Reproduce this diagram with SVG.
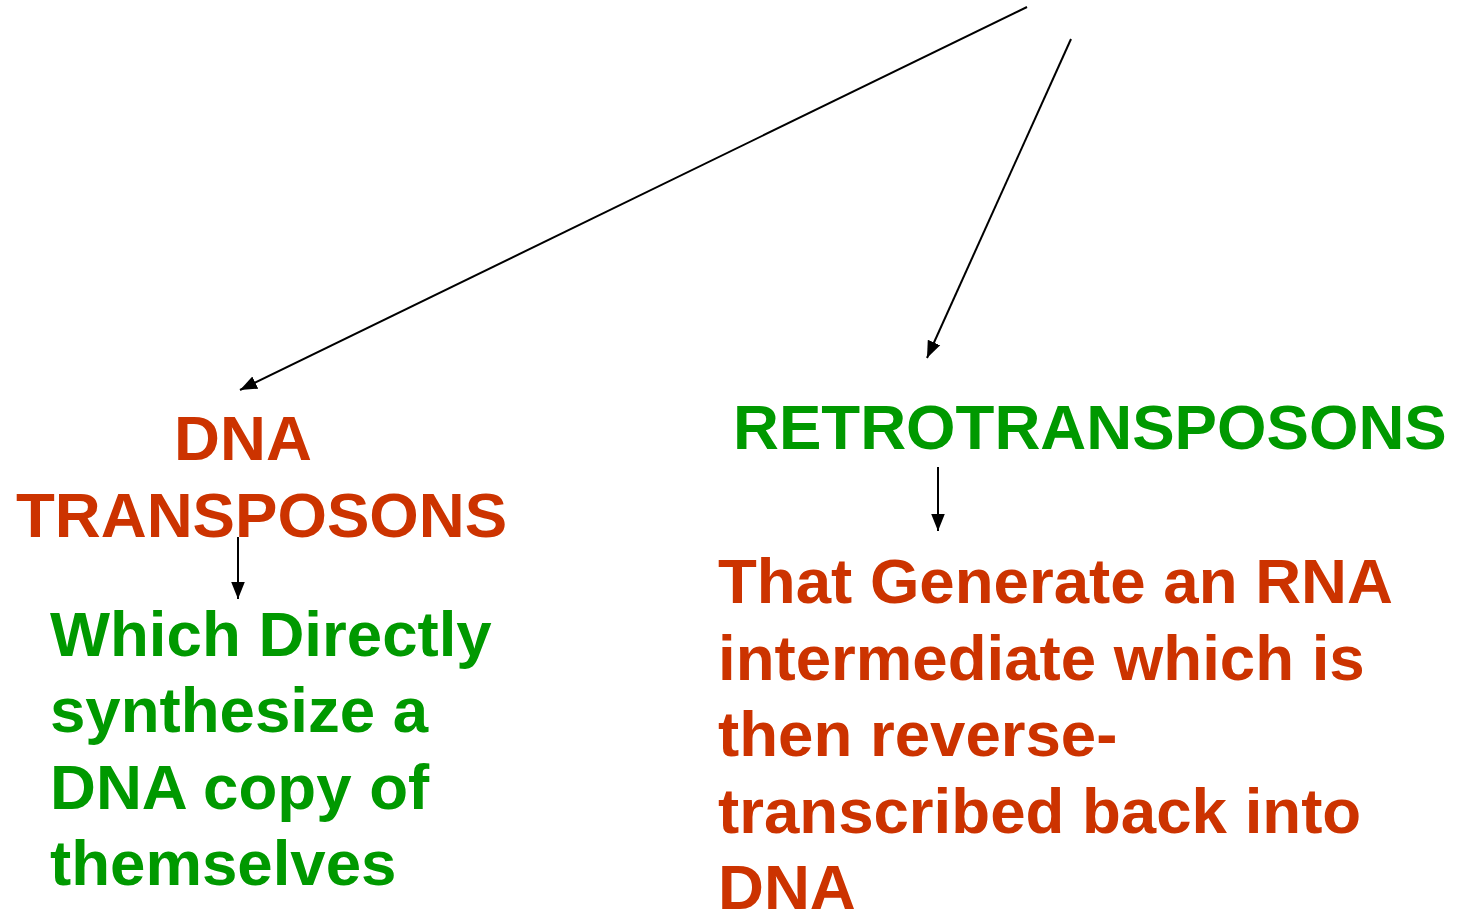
<svg xmlns="http://www.w3.org/2000/svg" width="1462" height="913" viewBox="0 0 1462 913">
<style>
text{font-family:"Liberation Sans",Arial,sans-serif;font-weight:bold;font-size:63.6px}
.r{fill:#CC3300}
.g{fill:#009900}
.c{stroke:#000;stroke-width:2;fill:none}
</style>
<defs>
<marker id="ah2" viewBox="0 0 10 10" refX="10" refY="5" markerWidth="17" markerHeight="17" markerUnits="userSpaceOnUse" orient="auto">
<path d="M0,1 L10,5 L0,9 z" fill="#000"/>
</marker>
</defs>
<rect width="1462" height="913" fill="#fff"/>
<g id="connectors">
<line class="c" x1="1027" y1="7" x2="240" y2="390" marker-end="url(#ah2)"/>
<line class="c" x1="1071" y1="39" x2="927" y2="358" marker-end="url(#ah2)"/>
<line class="c" x1="238" y1="537" x2="238" y2="599" marker-end="url(#ah2)"/>
<line class="c" x1="938" y1="467" x2="938" y2="531" marker-end="url(#ah2)"/>
</g>
<g id="dna-transposons">
<text class="r" x="243" y="460" text-anchor="middle">DNA</text>
<text class="r" x="16" y="537">TRANSPOSONS</text>
</g>
<g id="retrotransposons">
<text class="g" x="733" y="449">RETROTRANSPOSONS</text>
</g>
<g id="dna-desc">
<text class="g" x="50" y="656">Which Directly</text>
<text class="g" x="50" y="732">synthesize a</text>
<text class="g" x="50" y="809">DNA copy of</text>
<text class="g" x="50" y="885">themselves</text>
</g>
<g id="retro-desc">
<text class="r" x="718" y="603">That Generate an RNA</text>
<text class="r" x="718" y="680">intermediate which is</text>
<text class="r" x="718" y="756">then reverse-</text>
<text class="r" x="718" y="833">transcribed back into</text>
<text class="r" x="718" y="909">DNA</text>
</g>
</svg>
